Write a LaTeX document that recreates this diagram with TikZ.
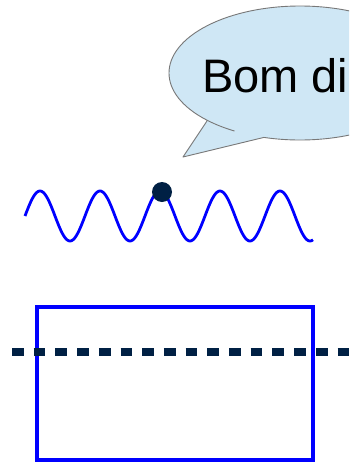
\documentclass[tikz,border=0pt]{standalone}
\usepackage{fontspec}
\setmainfont{Liberation Sans}
\usetikzlibrary{calc}
\definecolor{navy}{RGB}{0,32,68}
\definecolor{bubblefill}{RGB}{207,231,245}
\definecolor{bubbleline}{RGB}{120,120,120}
\begin{document}
\begin{tikzpicture}[x=1pt,y=-1pt,
  bubble/.style={fill=bubblefill,draw=bubbleline,line width=0.9pt,line join=round},
  wave/.style={draw=blue,line width=2.8pt},
  boxshape/.style={draw=blue,line width=4pt},
  dashline/.style={draw=navy,line width=8pt,dash pattern=on 11.7pt off 10pt},
  dotnode/.style={circle,fill=navy,minimum size=20pt,inner sep=0pt}]
\clip (0,0) rectangle (349,464);
\fill[white] (0,0) rectangle (349,464);
% speech bubble
\coordinate (c) at (300,73);
\coordinate (tip) at (183,157);
\coordinate (lb) at ($(c)+(135:131 and 67)$);
\filldraw[bubble] (lb)
  arc[start angle=135,end angle=466,x radius=131,y radius=67] coordinate (rb)
  -- (tip) -- cycle;
\draw[bubbleline,line width=0.9pt] (lb) arc[start angle=135,end angle=120,x radius=131,y radius=67];
\node[anchor=base west,font=\fontsize{47}{47}\selectfont,inner sep=0pt] (txt) at (202,92) {Bom dia};
% wave
\draw[wave] plot[domain=25:313,samples=240,smooth] (\x,{216-25*sin(6*(\x-25))});
\node[dotnode] (dot) at (162,192) {};
% rectangle and dashed line
\draw[boxshape] (37,307) rectangle (313,460);
\draw[dashline] (12,352) -- (370,352);
\end{tikzpicture}
\end{document}
